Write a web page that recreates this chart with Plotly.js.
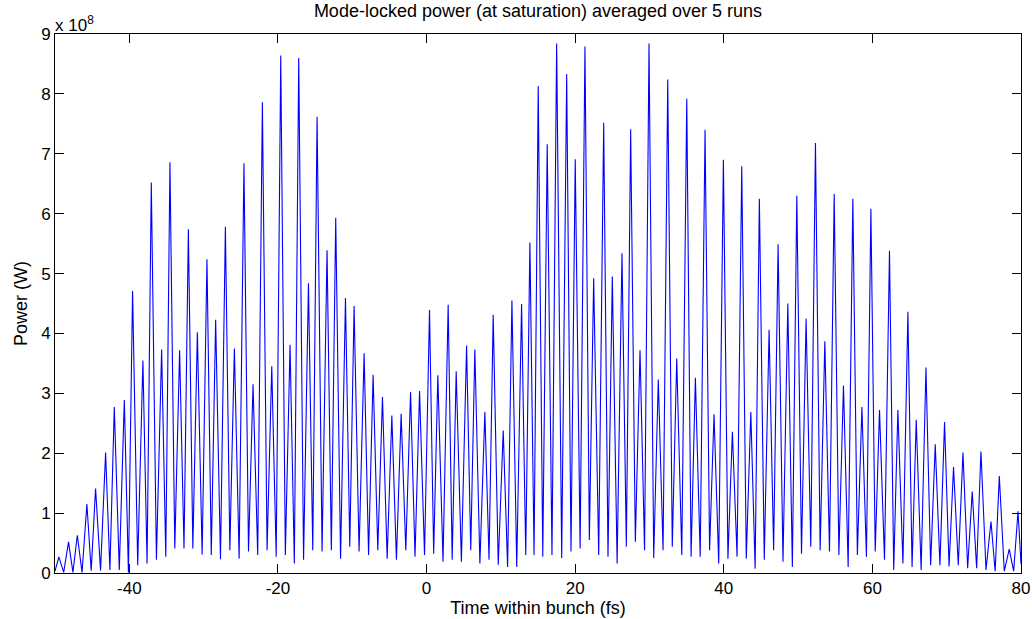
<!DOCTYPE html>
<html>
<head>
<meta charset="utf-8">
<script src="https://cdn.plot.ly/plotly-3.0.1.min.js"></script>
<style>html,body{margin:0;padding:0;background:#fff;}#chart{width:1032px;height:619px;}</style>
</head>
<body>
<div id="chart"></div>
<script>
// Power values are in units of 1e8 W (axis multiplier "x 10^8")
const peakTime = [
-49.48,-48.18,-47.00,-45.71,-44.54,-43.19,-42.02,-40.67,-39.56,-38.17,
-37.04,-35.65,-34.53,-33.23,-32.05,-30.84,-29.55,-28.38,-27.07,-25.86,
-24.57,-23.35,-22.09,-20.83,-19.62,-18.37,-17.20,-15.89,-14.73,-13.39,
-12.22,-10.91,-9.75,-8.40,-7.19,-5.93,-4.67,-3.42,-2.15,-0.94,
0.40,1.52,2.91,3.99,5.39,6.50,7.85,8.97,10.32,11.49,
12.79,13.91,15.03,16.24,17.51,18.86,20.01,21.32,22.49,23.84,
25.00,26.30,27.47,28.73,29.94,31.19,32.46,33.67,35.02,36.18,
37.48,38.69,39.95,41.16,42.42,43.64,44.79,46.10,47.31,48.62,
49.83,51.08,52.34,53.60,54.86,56.11,57.37,58.59,59.80,60.96,
62.30,63.43,64.78,65.90,67.21,68.46,69.71,70.92,72.19,73.44,
74.61,75.96,77.08,78.42,79.60
];
const peakPower = [
0.27,0.52,0.63,1.15,1.41,2.01,2.77,2.89,4.71,3.55,
6.52,3.73,6.86,3.72,5.74,4.02,5.24,4.23,5.78,3.75,
6.84,3.15,7.86,3.45,8.64,3.81,8.60,4.84,7.62,5.39,
5.93,4.59,4.46,3.67,3.31,2.94,2.63,2.66,3.02,3.04,
4.39,3.30,4.48,3.37,3.80,3.73,2.69,4.31,2.38,4.55,
4.49,5.52,8.13,7.16,8.84,8.33,6.91,8.79,4.92,7.52,
4.95,5.34,7.41,3.72,8.84,3.23,8.24,3.58,7.92,3.26,
7.40,2.65,6.90,2.36,6.79,2.69,6.25,4.06,5.49,4.50,
6.30,4.25,7.18,3.87,6.33,3.13,6.25,2.77,6.08,2.72,
5.38,2.72,4.36,2.56,3.43,2.15,2.52,1.77,2.01,1.36,
2.03,0.86,1.62,0.40,1.03
];
const troughTime = [
-50.00,
-48.83,-47.59,-46.36,-45.13,-43.87,-42.61,-41.35,-40.12,-38.87,-37.61,
-36.35,-35.09,-33.88,-32.64,-31.45,-30.20,-28.97,-27.73,-26.47,-25.22,
-23.96,-22.72,-21.46,-20.23,-19.00,-17.79,-16.55,-15.31,-14.06,-12.81,
-11.57,-10.33,-9.08,-7.80,-6.56,-5.30,-4.05,-2.79,-1.55,-0.27,
0.96,2.22,3.45,4.69,5.95,7.18,8.41,9.65,10.91,12.14,
13.35,14.47,15.64,16.88,18.19,19.44,20.67,21.91,23.17,24.42,
25.65,26.89,28.10,29.34,30.57,31.83,33.07,34.35,35.60,36.83,
38.09,39.32,40.56,41.79,43.03,44.22,45.45,46.71,47.97,49.23,
50.46,51.71,52.97,54.23,55.49,56.74,57.98,59.20,60.38,61.63,
62.87,64.11,65.34,66.56,67.84,69.09,70.32,71.56,72.82,74.03,
75.29,76.52,77.75,79.01,
80.00
];
const troughPower = [
0.03,
0.01,0.01,0.01,0.04,0.04,0.05,0.05,0.01,0.13,0.16,
0.22,0.27,0.41,0.41,0.41,0.31,0.30,0.23,0.38,0.24,
0.36,0.30,0.38,0.27,0.30,0.16,0.22,0.38,0.36,0.38,
0.24,0.44,0.36,0.30,0.38,0.24,0.22,0.38,0.27,0.30,
0.32,0.19,0.22,0.19,0.38,0.16,0.22,0.14,0.10,0.10,
0.30,0.30,0.27,0.30,0.25,0.36,0.41,0.55,0.30,0.27,
0.16,0.44,0.52,0.38,0.25,0.38,0.44,0.30,0.27,0.27,
0.38,0.16,0.24,0.27,0.24,0.07,0.22,0.38,0.19,0.10,
0.32,0.44,0.38,0.36,0.30,0.10,0.30,0.27,0.36,0.22,
0.05,0.16,0.10,0.05,0.13,0.13,0.11,0.13,0.08,0.08,
0.05,0.03,0.03,0.03,
0.15
];
const xTicks = [-40,-20,0,20,40,60,80];
const yTicks = [0,1,2,3,4,5,6,7,8,9];

// merge peaks and troughs into one time-ordered line
const pts = [];
peakTime.forEach((t,i)=>pts.push([t, peakPower[i]]));
troughTime.forEach((t,i)=>pts.push([t, troughPower[i]]));
pts.sort((a,b)=>a[0]-b[0]);
const time = pts.map(p=>p[0]);
const power = pts.map(p=>p[1]);

const fam = '"Liberation Sans", Arial, sans-serif';
const tickFont = {family:fam, size:17, color:'#000'};
const labelFont = {family:fam, size:18, color:'#000'};

const trace = {
  x: time, y: power, type:'scatter', mode:'lines',
  line:{color:'rgb(0,0,255)', width:1.1},
  hoverinfo:'skip'
};

const axisCommon = {
  showgrid:false, zeroline:false, showline:true, linecolor:'#000', linewidth:1,
  mirror:'ticks', ticks:'inside', ticklen:9, tickwidth:1, tickcolor:'#000',
  tickfont:tickFont, automargin:false
};

const layout = {
  width:1032, height:619,
  paper_bgcolor:'#fff', plot_bgcolor:'#fff',
  margin:{l:55, r:11, t:34, b:46},
  showlegend:false,
  font:tickFont,
  title:{text:'Mode-locked power (at saturation) averaged over 5 runs',
         font:{family:fam, size:18, color:'#000'},
         x:0.5, xref:'paper', xanchor:'center', y:0.982, yref:'container', yanchor:'middle'},
  xaxis:Object.assign({}, axisCommon, {
    range:[-50,80], tickvals:xTicks, ticktext:xTicks.map(String),
    title:{text:'Time within bunch (fs)', font:labelFont, standoff:2}
  }),
  yaxis:Object.assign({}, axisCommon, {
    range:[0,9], tickvals:yTicks, ticktext:yTicks.map(String),
    title:{text:'Power (W)', font:labelFont, standoff:8}
  }),
  annotations:[{
    xref:'paper', yref:'paper', x:0, y:1, xanchor:'left', yanchor:'bottom',
    text:'x 10<sup>8</sup>', showarrow:false, font:tickFont, yshift:-3, xshift:-2
  }]
};

Plotly.newPlot('chart', [trace], layout, {staticPlot:true, displayModeBar:false});
</script>
</body>
</html>
